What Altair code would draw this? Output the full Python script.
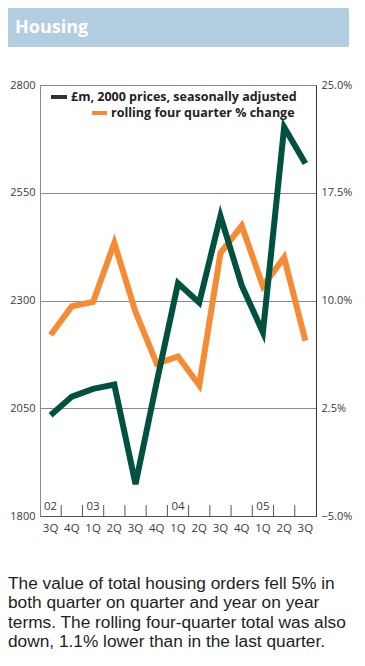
import altair as alt
import pandas as pd

# ---- data ----
quarters = ["3Q02", "4Q02", "1Q03", "2Q03", "3Q03", "4Q03", "1Q04",
            "2Q04", "3Q04", "4Q04", "1Q05", "2Q05", "3Q05"]
orders_m = [2034, 2077, 2095, 2105, 1874, 2111, 2340, 2295, 2496, 2335, 2226, 2702, 2618]
rolling_pct = [7.6, 9.6, 9.9, 14.0, 9.2, 5.6, 6.1, 4.1, 13.3, 15.2, 11.0, 13.0, 7.2]
year_labels = ["02", "03", "04", "05"]
year_at = ["3Q02", "1Q03", "1Q04", "1Q05"]
left_ticks = [1800, 2050, 2300, 2550, 2800]
right_ticks = [-5.0, 2.5, 10.0, 17.5, 25.0]
legend_labels = ["£m, 2000 prices, seasonally adjusted", "rolling four quarter % change"]
title_text = "Housing"
caption_lines = [
    "The value of total housing orders fell 5% in",
    "both quarter on quarter and year on year",
    "terms. The rolling four-quarter total was also",
    "down, 1.1% lower than in the last quarter.",
]

GREEN = "#00513f"
ORANGE = "#f68b33"
LEGEND_DARK = "#333333"
HEADER = "#b3cde1"
AXFONT = "Open Sans"

df = pd.DataFrame({"q": quarters, "m": orders_m, "p": rolling_pct})
years_df = pd.DataFrame({"q": year_at, "label": year_labels})
ticks_df = pd.DataFrame({"q": quarters[1:]})

xscale = alt.Scale(type="band", domain=quarters, paddingInner=0, paddingOuter=0)

x_axis = alt.Axis(
    title=None, labelExpr="slice(datum.value, 0, 2)", labelAngle=0,
    ticks=False, tickSize=0, labelPadding=6, labelFont=AXFONT, labelFontSize=11.5,
    labelColor="#3a3a3a", domainColor="#555555", domainWidth=1, grid=False,
    labelOverlap=False,
)


def xenc(band_pos):
    return alt.X("q:N", scale=xscale, bandPosition=band_pos, axis=x_axis, sort=quarters)


orange = alt.Chart(df).mark_line(color=ORANGE, strokeWidth=6, strokeJoin="miter").encode(
    x=xenc(0.5),
    y=alt.Y("p:Q", scale=alt.Scale(domain=[-5, 25], nice=False, zero=False),
            axis=alt.Axis(orient="right", title=None, values=right_ticks,
                          labelExpr="format(datum.value, '.1f') + '%'",
                          ticks=False, tickSize=0, labelPadding=5, grid=False,
                          labelFont=AXFONT, labelFontSize=11, labelColor="#3a3a3a",
                          domainColor="#333333", domainWidth=1)),
)

green = alt.Chart(df).mark_line(color=GREEN, strokeWidth=6, strokeJoin="miter").encode(
    x=xenc(0.5),
    y=alt.Y("m:Q", scale=alt.Scale(domain=[1800, 2800], nice=False, zero=False),
            axis=alt.Axis(orient="left", title=None, values=left_ticks, format="d",
                          ticks=False, tickSize=0, labelPadding=5,
                          grid=True, gridColor="#8a8a8a", gridWidth=1,
                          labelFont=AXFONT, labelFontSize=11, labelColor="#3a3a3a",
                          domainColor="#8a8a8a", domainWidth=1)),
)

tick_marks = alt.Chart(ticks_df).mark_rule(color="#555555", strokeWidth=1).encode(
    x=xenc(0),
    y=alt.value(420), y2=alt.value(431),
)

year_text = alt.Chart(years_df).mark_text(
    font=AXFONT, fontSize=11.5, color="#3a3a3a", baseline="middle", align="center"
).encode(
    x=xenc(0.5),
    y=alt.value(422), text="label:N",
)

header_rect = alt.Chart(pd.DataFrame({"t": [title_text]})).mark_rect(
    color=HEADER, cornerRadiusTopRight=2, cornerRadiusBottomRight=2
).encode(x=alt.value(-32), x2=alt.value(309), y=alt.value(-77), y2=alt.value(-38))

header_text = alt.Chart(pd.DataFrame({"t": [title_text]})).mark_text(
    font="Open Sans", fontSize=18, fontWeight="bold", color="white",
    align="left", baseline="alphabetic"
).encode(x=alt.value(-25), y=alt.value(-52), text="t:N")

leg_sym1 = alt.Chart(pd.DataFrame({"t": [legend_labels[0]]})).mark_rect(color=LEGEND_DARK).encode(
    x=alt.value(11), x2=alt.value(27), y=alt.value(10), y2=alt.value(14))
leg_sym2 = alt.Chart(pd.DataFrame({"t": [legend_labels[1]]})).mark_rect(color=ORANGE).encode(
    x=alt.value(52), x2=alt.value(67), y=alt.value(26), y2=alt.value(30))
leg_txt1 = alt.Chart(pd.DataFrame({"t": [legend_labels[0]]})).mark_text(
    font="Open Sans", fontSize=12.5, fontWeight="bold", color="#222222",
    align="left", baseline="alphabetic").encode(x=alt.value(31), y=alt.value(16), text="t:N")
leg_txt2 = alt.Chart(pd.DataFrame({"t": [legend_labels[1]]})).mark_text(
    font="Open Sans", fontSize=12.5, fontWeight="bold", color="#222222",
    align="left", baseline="alphabetic").encode(x=alt.value(71), y=alt.value(32), text="t:N")

caption = alt.Chart(pd.DataFrame({"t": ["caption"]})).mark_text(
    text=caption_lines, lineHeight=19.4, font="Liberation Sans", fontSize=17.3,
    color="#1e1e1e", align="left", baseline="alphabetic"
).encode(x=alt.value(-32), y=alt.value(504))

chart = alt.layer(
    header_rect, header_text, orange, green, tick_marks, year_text,
    leg_sym1, leg_sym2, leg_txt1, leg_txt2, caption,
).resolve_scale(y="independent").properties(
    width=276, height=431,
    autosize=alt.AutoSizeParams(type="none"),
    padding={"left": 32, "top": 77, "right": 41, "bottom": 142},
).configure_view(stroke="#8a8a8a", strokeWidth=1)

chart.save("out.html", embed_options={"renderer": "svg", "actions": False})
